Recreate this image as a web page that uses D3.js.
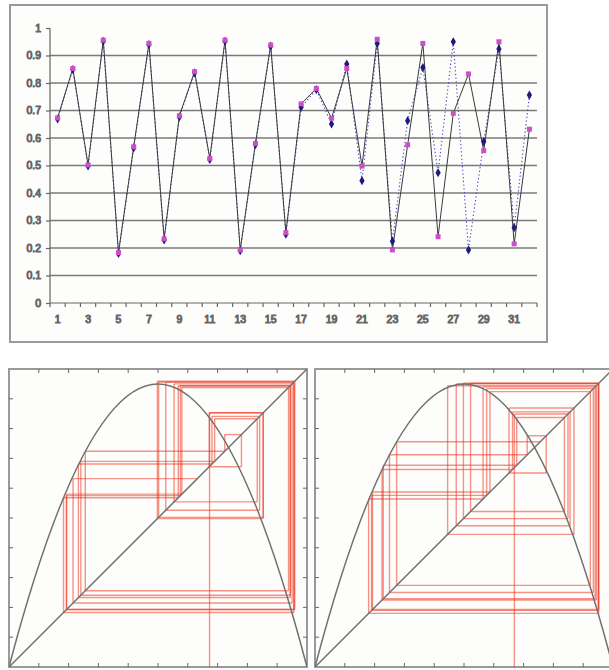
<!DOCTYPE html>
<meta charset="utf-8">
<style>
body { margin: 0; background: #fff; }
svg { display: block; font-family: "DejaVu Sans", Verdana, sans-serif; }
.frame { fill: #fdfdfb; stroke: #9a9a9a; stroke-width: 2px; }
.grid line { stroke: #7a7a7a; stroke-width: 1.4px; }
.axis path, .axis line { stroke: #666; stroke-width: 1.2px; }
.axis text { fill: #707070; font-size: 10.5px; font-weight: normal; }
.seriesA { fill: none; stroke: #3a3a3a; stroke-width: 1px; }
.seriesB { fill: none; stroke: #4848c8; stroke-width: 1.1px; stroke-dasharray: 1.3 2.4; }
.web line { stroke: #f02a14; stroke-opacity: 0.5; stroke-width: 1.4px; }
.curve { fill: none; stroke: #707070; stroke-width: 1.5px; }
.tick { stroke: #666; stroke-width: 1px; }
</style>
<body>
<svg id="chart" width="609" height="670"></svg>
<script src="https://d3js.org/d3.v7.min.js"></script>
<script>

// iteration numbers on the x axis
var steps = [1, 2, 3, 4, 5, 6, 7, 8, 9, 10, 11, 12, 13, 14, 15, 16,
             17, 18, 19, 20, 21, 22, 23, 24, 25, 26, 27, 28, 29, 30, 31, 32];

// pink squares, solid line
var seriesA = [0.673, 0.853, 0.502, 0.956, 0.183, 0.568, 0.944, 0.233,
               0.681, 0.841, 0.526, 0.956, 0.193, 0.580, 0.938, 0.256,
               0.724, 0.780, 0.672, 0.853, 0.498, 0.959, 0.193, 0.575,
               0.944, 0.241, 0.690, 0.833, 0.554, 0.950, 0.215, 0.632];

// blue diamonds, dotted line (splits off after ~18)
var seriesB = [0.669, 0.849, 0.498, 0.952, 0.180, 0.564, 0.940, 0.229,
               0.677, 0.837, 0.522, 0.952, 0.190, 0.576, 0.934, 0.250,
               0.712, 0.776, 0.651, 0.869, 0.445, 0.944, 0.225, 0.663,
               0.856, 0.474, 0.950, 0.193, 0.587, 0.924, 0.274, 0.756];

var yTicks = [0, 0.1, 0.2, 0.3, 0.4, 0.5, 0.6, 0.7, 0.8, 0.9, 1];
var gridValues = [0.1, 0.2, 0.3, 0.4, 0.5, 0.6, 0.7, 0.8, 0.9];
var webTicks = [0.1, 0.2, 0.3, 0.4, 0.5, 0.6, 0.7, 0.8, 0.9];

// height of the parabola's top in the cobweb plots
var mapPeak = 0.95;

var svg = d3.select("#chart");

// ---------- top: time series ----------
svg.append("rect").attr("class", "frame")
  .attr("x", 10).attr("y", 5).attr("width", 537).attr("height", 337);

var x = d3.scaleBand().domain(steps).range([50, 537]);
var y = d3.scaleLinear().domain([0, 1]).range([303, 28]);
var bw = x.bandwidth();

svg.append("g").attr("class", "grid")
  .selectAll("line").data(gridValues).enter().append("line")
  .attr("x1", 50).attr("x2", 537)
  .attr("y1", function(d) { return y(d); })
  .attr("y2", function(d) { return y(d); });

var yAxis = svg.append("g").attr("class", "axis")
  .attr("transform", "translate(50,0)")
  .call(d3.axisLeft(y).tickValues(yTicks).tickSize(4).tickPadding(5)
    .tickFormat(function(d) { return String(d); }));
yAxis.select(".domain").attr("d", "M0," + y(0) + "V" + y(1));

var xAxis = svg.append("g").attr("class", "axis")
  .attr("transform", "translate(0," + y(0) + ")")
  .call(d3.axisBottom(x).tickSize(0).tickPadding(13)
    .tickFormat(function(d) { return d % 2 == 1 ? d : ""; }));
xAxis.select(".domain").attr("d", "M50,0H537");

// ticks sit between the categories
var bounds = steps.map(function(d) { return x(d); }).concat([x(steps[steps.length - 1]) + bw]);
xAxis.selectAll("line.sep").data(bounds).enter().append("line")
  .attr("class", "sep")
  .attr("x1", function(d) { return d; }).attr("x2", function(d) { return d; })
  .attr("y1", 0).attr("y2", 4);

function px(i) { return x(steps[i]) + bw / 2; }

var line = d3.line()
  .x(function(d, i) { return px(i); })
  .y(function(d) { return y(d); });

svg.append("path").attr("class", "seriesB").attr("d", line(seriesB));
svg.append("path").attr("class", "seriesA").attr("d", line(seriesA));

svg.append("g").selectAll("path").data(seriesB).enter().append("path")
  .attr("d", d3.symbol().type(d3.symbolDiamond).size(24))
  .attr("transform", function(d, i) { return "translate(" + px(i) + "," + y(d) + ")"; })
  .attr("fill", "#1c1c80");

svg.append("g").selectAll("rect").data(seriesA).enter().append("rect")
  .attr("x", function(d, i) { return px(i) - 2.5; })
  .attr("y", function(d) { return y(d) - 2.5; })
  .attr("width", 5).attr("height", 5)
  .attr("fill", "#cc4fc8");

// ---------- bottom: cobweb plots ----------
function drawWeb(left, top, size, series, id) {
  var wx = d3.scaleLinear().domain([0, 1]).range([left, left + size]);
  var wy = d3.scaleLinear().domain([0, 1]).range([top + size, top]);

  svg.append("clipPath").attr("id", id)
    .append("rect").attr("x", left).attr("y", top).attr("width", size).attr("height", size);

  svg.append("rect").attr("class", "frame")
    .attr("x", left).attr("y", top).attr("width", size).attr("height", size);

  var g = svg.append("g").attr("clip-path", "url(#" + id + ")");

  // segments of the web: up from the axis, then stairs between curve and diagonal
  var segs = [[series[0], 0, series[0], series[1]]];
  for (var i = 1; i < series.length; i++) {
    segs.push([series[i - 1], series[i], series[i], series[i]]);
    if (i + 1 < series.length) segs.push([series[i], series[i], series[i], series[i + 1]]);
  }
  g.append("g").attr("class", "web")
    .selectAll("line").data(segs).enter().append("line")
    .attr("x1", function(d) { return wx(d[0]); })
    .attr("y1", function(d) { return wy(d[1]); })
    .attr("x2", function(d) { return wx(d[2]); })
    .attr("y2", function(d) { return wy(d[3]); });

  g.append("path").attr("class", "curve")
    .attr("d", "M" + wx(0) + "," + wy(0) + "L" + wx(1) + "," + wy(1));
  // parabola through (0,0), (1,0) with top at mapPeak, as a quadratic bezier
  g.append("path").attr("class", "curve")
    .attr("d", "M" + wx(0) + "," + wy(0) + "Q" + wx(0.5) + "," + wy(2 * mapPeak) + " " + wx(1) + "," + wy(0));

  var t = svg.append("g");
  webTicks.forEach(function(v) {
    t.append("line").attr("class", "tick").attr("x1", wx(v)).attr("x2", wx(v)).attr("y1", top).attr("y2", top + 4);
    t.append("line").attr("class", "tick").attr("x1", wx(v)).attr("x2", wx(v)).attr("y1", top + size).attr("y2", top + size - 4);
    t.append("line").attr("class", "tick").attr("y1", wy(v)).attr("y2", wy(v)).attr("x1", left).attr("x2", left + 4);
    t.append("line").attr("class", "tick").attr("y1", wy(v)).attr("y2", wy(v)).attr("x1", left + size).attr("x2", left + size - 4);
  });
}

drawWeb(9, 369, 298, seriesA, "webA");
drawWeb(315, 369, 298, seriesB, "webB");

</script>
</body>
